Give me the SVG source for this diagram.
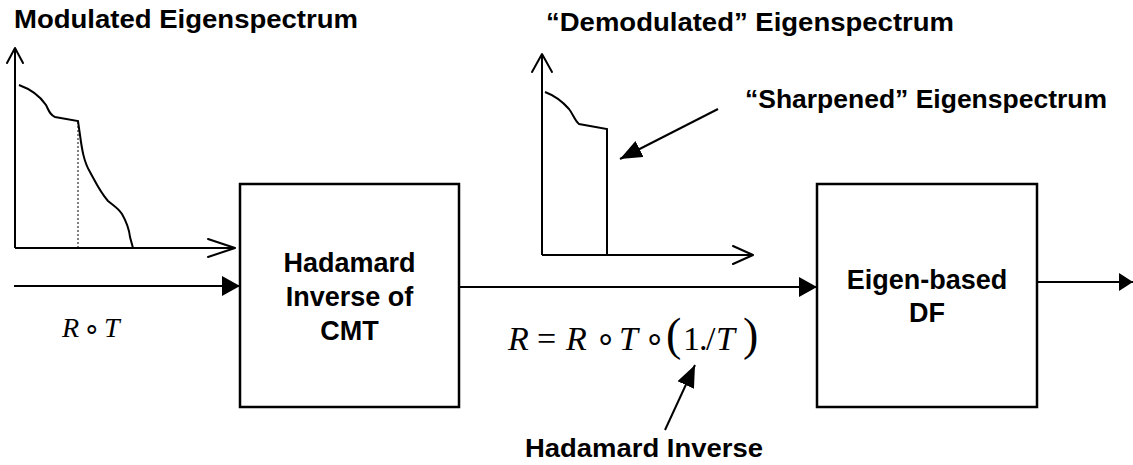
<svg xmlns="http://www.w3.org/2000/svg" width="1133" height="465" viewBox="0 0 1133 465">
<defs>
<style>
.lbl{font-family:"Liberation Sans",Arial,sans-serif;font-weight:bold;font-size:26px;fill:#000}
.blbl{font-family:"Liberation Sans",Arial,sans-serif;font-weight:bold;font-size:27px;fill:#000}
.math{font-family:"Liberation Serif","Times New Roman",serif;fill:#000}
.it{font-style:italic}
.ln{stroke:#000;stroke-width:2;fill:none}
.box{stroke:#000;stroke-width:2.5;fill:#fff}
.open{stroke:#000;stroke-width:2;fill:none;stroke-linecap:round;stroke-linejoin:round}
</style>
<marker id="tri" markerWidth="18" markerHeight="20" viewBox="0 0 18 20" refX="18" refY="10" orient="auto" markerUnits="userSpaceOnUse">
<path d="M0,0 L18,10 L0,20 Z" fill="#000"/>
</marker>
<marker id="tri-s" markerWidth="14" markerHeight="18" viewBox="0 0 14 18" refX="14" refY="9" orient="auto" markerUnits="userSpaceOnUse">
<path d="M0,0 L14,9 L0,18 Z" fill="#000"/>
</marker>
<marker id="ptr" markerWidth="22" markerHeight="18" viewBox="0 0 22 18" refX="22" refY="9" orient="auto" markerUnits="userSpaceOnUse">
<path d="M0,0 L22,9 L0,18 Z" fill="#000"/>
</marker>
</defs>
<rect width="1133" height="465" fill="#fff"/>

<g id="chart-modulated">
<text class="lbl" x="14" y="28" textLength="344" lengthAdjust="spacingAndGlyphs">Modulated Eigenspectrum</text>
<path class="ln" d="M15,248 V48"/>
<path class="open" d="M7,63 L15,48 L23,63"/>
<path class="ln" d="M15,248 H235"/>
<path class="open" d="M208,239 L235,248 L208,257"/>
<path class="ln" d="M19,85 C30,89 40,96 46,105 C49,111 50,115 55,117 L78,121 L80,135 C82,150 84,162 90,172 C96,183 100,192 108,201 C114,206 118,208 122,214 C126,221 129,228 130,237 L133,248"/>
<path d="M78,122 V248" stroke="#000" stroke-width="1" stroke-dasharray="2,2" fill="none"/>
</g>

<g id="chart-demodulated">
<text class="lbl" x="546" y="31" textLength="408" lengthAdjust="spacingAndGlyphs">“Demodulated” Eigenspectrum</text>
<path class="ln" d="M542,255 V54"/>
<path class="open" d="M532,72 L542,54 L552,72"/>
<path class="ln" d="M542,255 H753"/>
<path class="open" d="M733,246 L753,255 L733,264"/>
<path class="ln" d="M545,92 C553,95 562,101 569,109 C573,114 575,121 579,124 L607,129 V255"/>
</g>

<g id="label-sharpened">
<text class="lbl" x="745" y="108" textLength="362" lengthAdjust="spacingAndGlyphs">“Sharpened” Eigenspectrum</text>
</g>

<g id="hadamard-inverse-cmt">
<rect class="box" x="240" y="184" width="219" height="223"/>
<text class="blbl" x="349.5" y="272" text-anchor="middle">Hadamard</text>
<text class="blbl" x="349.5" y="306" text-anchor="middle">Inverse of</text>
<text class="blbl" x="349.5" y="340" text-anchor="middle">CMT</text>
</g>

<g id="eigen-based-df">
<rect class="box" x="817" y="184" width="220" height="223"/>
<text class="blbl" x="927" y="289" text-anchor="middle">Eigen-based</text>
<text class="blbl" x="927" y="322" text-anchor="middle">DF</text>
</g>

<g id="math-labels">
<text class="math" font-size="28" y="337"><tspan class="it" x="62">R</tspan><tspan x="83">∘</tspan><tspan class="it" x="104">T</tspan></text>
<text class="math" font-size="34" y="350"><tspan class="it" x="508">R</tspan><tspan x="537">=</tspan><tspan class="it" x="566">R</tspan><tspan x="595">∘</tspan><tspan class="it" x="619">T</tspan><tspan x="644">∘</tspan><tspan x="666" font-size="46">(</tspan><tspan x="683">1</tspan><tspan x="699">.</tspan><tspan x="706">/</tspan><tspan class="it" x="716">T</tspan><tspan x="743" font-size="46">)</tspan></text>
<text class="lbl" x="525" y="457" textLength="238" lengthAdjust="spacingAndGlyphs">Hadamard Inverse</text>
</g>

<g id="connectors">
<line class="ln" x1="14" y1="286" x2="240" y2="286" marker-end="url(#tri)"/>
<line class="ln" x1="459" y1="287" x2="817" y2="287" marker-end="url(#tri)"/>
<line class="ln" x1="1037" y1="282" x2="1133" y2="282" marker-end="url(#tri-s)"/>
<line class="ln" x1="718" y1="109" x2="620" y2="159" marker-end="url(#ptr)"/>
<line class="ln" x1="665" y1="430" x2="695" y2="365" marker-end="url(#ptr)"/>
</g>
</svg>
